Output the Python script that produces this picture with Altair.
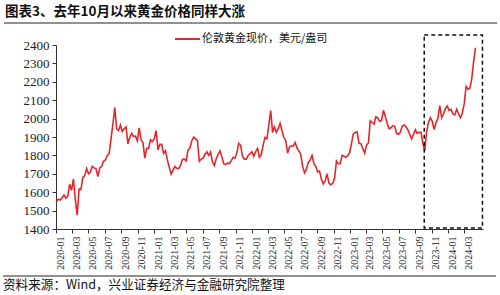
import altair as alt
import pandas as pd

# Weekly (Friday) London gold price, USD/oz
v2020 = [1550, 1562, 1557, 1570, 1585, 1567, 1580, 1643, 1610, 1672, 1560, 1475, 1617,
         1615, 1680, 1690, 1728, 1700, 1710, 1740, 1732, 1728, 1685, 1732, 1740, 1768,
         1775, 1800, 1808, 1890, 1970, 2060, 1945, 1935, 1965, 1930, 1945, 1955, 1862,
         1900, 1920, 1903, 1905, 1880, 1950, 1885, 1870, 1785, 1838, 1838, 1885, 1875]
v2021 = [1890, 1935, 1830, 1860, 1860, 1810, 1825, 1775, 1735, 1698, 1720, 1740, 1730,
         1728, 1745, 1778, 1780, 1770, 1830, 1840, 1880, 1900, 1890, 1880, 1768, 1780,
         1785, 1805, 1820, 1800, 1818, 1765, 1745, 1782, 1805, 1825, 1792, 1755, 1750,
         1758, 1756, 1770, 1790, 1785, 1815, 1865, 1855, 1795, 1780, 1780, 1800, 1808, 1820]
v2022 = [1795, 1820, 1838, 1790, 1805, 1858, 1898, 1890, 1965, 2043, 1925, 1955,
         1925, 1945, 1975, 1935, 1897, 1880, 1812, 1845, 1852, 1850, 1870, 1840, 1825,
         1805, 1740, 1705, 1725, 1762, 1775, 1800, 1755, 1740, 1710, 1715, 1670, 1645, 1662,
         1700, 1650, 1640, 1648, 1675, 1770, 1755, 1755, 1800, 1795, 1790, 1798, 1815]
v2023 = [1865, 1918, 1925, 1928, 1865, 1865, 1838, 1812, 1855, 1868, 1988, 1980, 1970,
         2010, 2004, 1985, 1990, 2045, 2012, 1975, 1945, 1950, 1962, 1958, 1920, 1915,
         1925, 1960, 1965, 1955, 1940, 1915, 1890, 1915, 1940, 1920, 1925, 1925, 1865,
         1825, 1930, 1980, 2005, 1985, 1940, 1980, 2000, 2070, 2005, 2025, 2055, 2068]
v2024 = [2045, 2050, 2025, 2020, 2050, 2025, 2005, 2030, 2080, 2175, 2160, 2165, 2215,
         2310, 2385]

series_name = "伦敦黄金现价，美元/盎司"
title_text = "图表3、去年10月以来黄金价格同样大涨"
source_text = "资料来源：Wind，兴业证券经济与金融研究院整理"
y_ticks = [1400, 1500, 1600, 1700, 1800, 1900, 2000, 2100, 2200, 2300, 2400]

values = v2020 + v2021 + v2022 + v2023 + v2024
dates = pd.date_range("2020-01-03", periods=len(values), freq="W-FRI")
df = pd.DataFrame({"date": dates.strftime("%Y-%m-%d"), "price": values})

tick_dates = []
for y in range(2020, 2025):
    for m in range(1, 13, 2):
        if (y, m) <= (2024, 3):
            tick_dates.append(alt.DateTime(year=y, month=m, date=1, utc=True))

x_scale = alt.Scale(type="utc",
                    domain=[alt.DateTime(year=2020, month=1, date=1, utc=True),
                            alt.DateTime(year=2024, month=5, date=10, utc=True)])
y_scale = alt.Scale(domain=[1400, 2400], nice=False, zero=False)

x_axis = alt.Axis(values=tick_dates, format="%Y-%m", labelAngle=270, title=None,
                  labelFont="Liberation Serif", labelFontSize=10, labelColor="#222",
                  labelOffset=4, grid=False, tickSize=4, tickColor="#333",
                  domainColor="#333", labelPadding=3, labelOverlap=False)
y_axis = alt.Axis(values=y_ticks, format="d", title=None, labelFont="Liberation Serif",
                  labelFontSize=13, labelColor="#222", grid=False, tickSize=4,
                  tickColor="#333", domainColor="#333", labelPadding=3,
                  labelOverlap=False)

line = alt.Chart(df).mark_line(color="#e3262b", strokeWidth=1.6).encode(
    x=alt.X("date:T", scale=x_scale, axis=x_axis),
    y=alt.Y("price:Q", scale=y_scale, axis=y_axis),
)

box_df = pd.DataFrame({"x": ["2023-10-04"], "x2": ["2024-05-08"], "y": [1405], "y2": [2455]})
box = alt.Chart(box_df).mark_rect(fill=None, fillOpacity=0, stroke="#111", strokeWidth=1.5,
                                  strokeDash=[4, 3], clip=False).encode(
    x=alt.X("x:T", scale=x_scale, axis=x_axis), x2="x2:T",
    y=alt.Y("y:Q", scale=y_scale, axis=y_axis), y2="y2:Q")

ann = pd.DataFrame({"t": [0]})
title = alt.Chart(ann).mark_text(align="left", baseline="middle", fontSize=13.5,
                                 fontWeight="bold", font="Noto Sans CJK SC",
                                 color="#111", text=title_text).encode(
    x=alt.value(-51), y=alt.value(-33))
top_rule = alt.Chart(ann).mark_rule(color="#222", strokeWidth=1).encode(
    x=alt.value(-52), x2=alt.value(441), y=alt.value(-22))
bottom_rule = alt.Chart(ann).mark_rule(color="#222", strokeWidth=1).encode(
    x=alt.value(-53), x2=alt.value(440), y=alt.value(231))
source = alt.Chart(ann).mark_text(align="left", baseline="middle", fontSize=12.6,
                                  font="Noto Sans CJK SC", color="#111",
                                  text=source_text).encode(
    x=alt.value(-53), y=alt.value(240))
leg_line = alt.Chart(ann).mark_rule(color="#e3262b", strokeWidth=2).encode(
    x=alt.value(119), x2=alt.value(144), y=alt.value(-6))
leg_text = alt.Chart(ann).mark_text(align="left", baseline="middle", fontSize=11,
                                    font="Noto Sans CJK SC", color="#111",
                                    text=series_name).encode(
    x=alt.value(146), y=alt.value(-6))

chart = alt.layer(line, box, title, top_rule, bottom_rule, source, leg_line, leg_text).properties(
    width=427, height=184,
    padding={"left": 56, "top": 45, "right": 17, "bottom": 66},
    autosize=alt.AutoSizeParams(type="none"),
    background="white",
).configure_view(stroke=None)

chart.save("out.html", embed_options={"renderer": "svg", "actions": False})
